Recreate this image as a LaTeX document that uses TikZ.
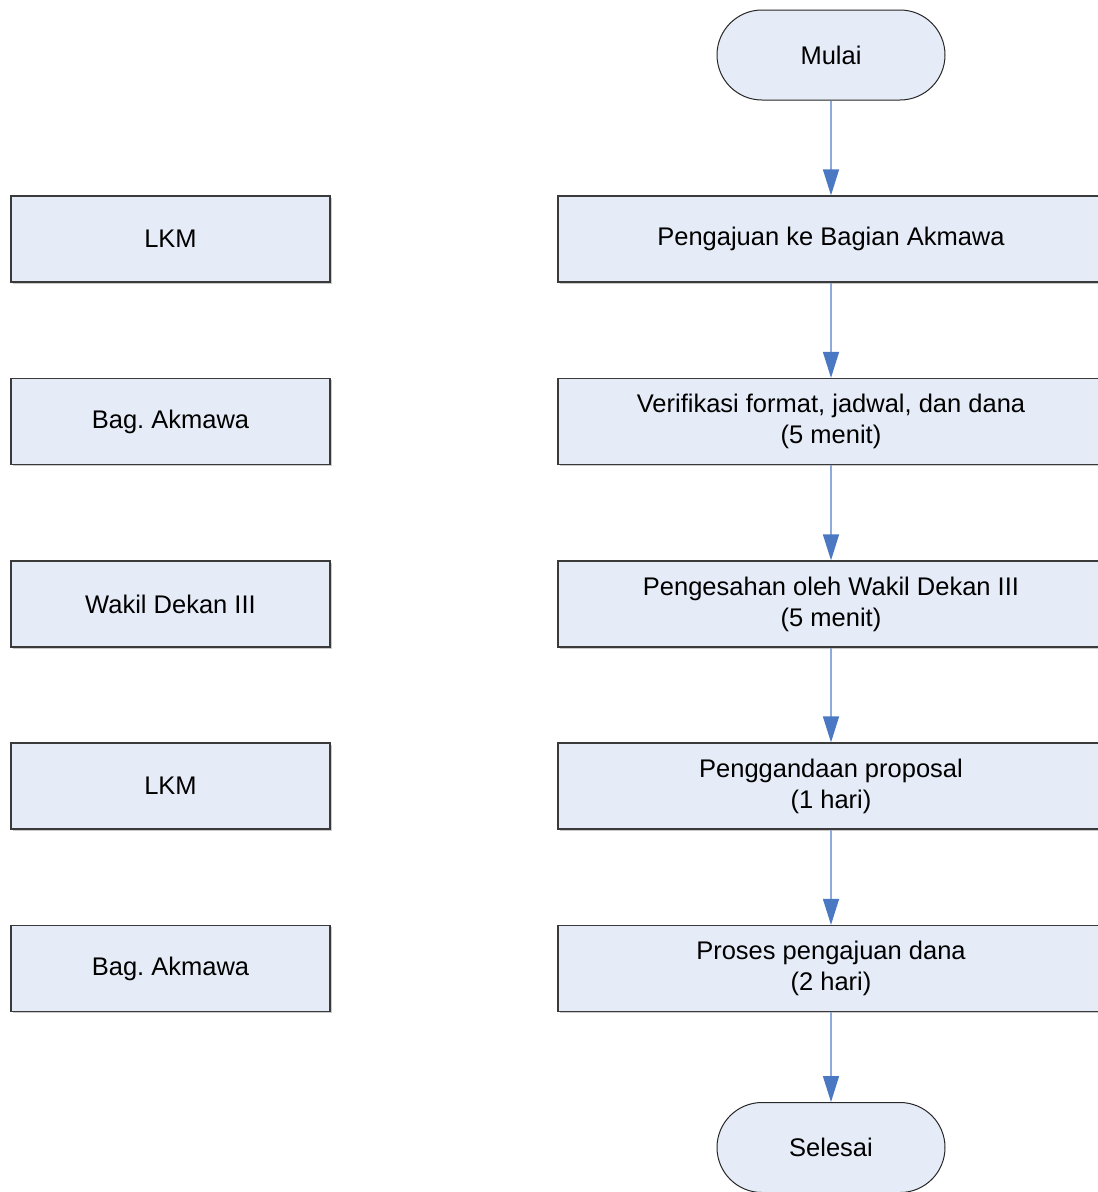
\documentclass[tikz,border=0pt]{standalone}
\usepackage{fontspec}
\setmainfont{Liberation Sans}
\frenchspacing
\usetikzlibrary{arrows.meta,shadows}
\definecolor{boxfill}{HTML}{E6ECF7}
\definecolor{boxline}{HTML}{3A3A3A}
\definecolor{flowline}{HTML}{8EAADB}
\definecolor{flowhead}{HTML}{4A78C2}
\tikzset{
  every node/.style={font=\fontsize{25.5pt}{31pt}\selectfont, align=center, inner sep=0pt},
  actor/.style={draw=boxline, line width=1.3pt, fill=boxfill, minimum width=319pt, minimum height=86pt,
    drop shadow={shadow xshift=1.5pt, shadow yshift=-1.5pt, fill=black!35, opacity=0.6}},
  process/.style={draw=boxline, line width=1.3pt, fill=boxfill, minimum width=546pt, minimum height=86pt,
    drop shadow={shadow xshift=1.5pt, shadow yshift=-1.5pt, fill=black!35, opacity=0.6}},
  terminal/.style={draw=black!85, line width=1pt, fill=boxfill, rounded corners=45pt, minimum width=228pt, minimum height=90pt},
  flow/.style={draw=flowline, line width=1.5pt, -{Triangle[length=26pt, width=16pt, color=flowhead]}, shorten >=0pt}
}
\begin{document}
\begin{tikzpicture}[x=1pt, y=-1pt]
  \useasboundingbox (0,0) rectangle (1098,1192);
  \begin{scope}
    \clip (0,0) rectangle (1098,1192);
    % swimlane actors
    \node[actor] (a1) at (170.5,239) {LKM};
    \node[actor] (a2) at (170.5,421.5) {Bag. Akmawa};
    \node[actor] (a3) at (170.5,604) {Wakil Dekan III};
    \node[actor] (a4) at (170.5,786) {LKM};
    \node[actor] (a5) at (170.5,968.5) {Bag. Akmawa};
    % process steps
    \node[terminal] (start) at (831,55) {Mulai};
    \node[process] (p1) at (831,239) {Pengajuan ke Bagian Akmawa};
    \node[process] (p2) at (831,421.5) {Verifikasi format, jadwal, dan dana\\(5 menit)};
    \node[process] (p3) at (831,604) {Pengesahan oleh Wakil Dekan III\\(5 menit)};
    \node[process] (p4) at (831,786) {Penggandaan proposal\\(1 hari)};
    \node[process] (p5) at (831,968.5) {Proses pengajuan dana\\(2 hari)};
    \node[terminal] (end) at (831,1147.5) {Selesai};
    % connectors
    \draw[flow] (start) -- (p1);
    \draw[flow] (p1) -- (p2);
    \draw[flow] (p2) -- (p3);
    \draw[flow] (p3) -- (p4);
    \draw[flow] (p4) -- (p5);
    \draw[flow] (p5) -- (end);
  \end{scope}
\end{tikzpicture}
\end{document}
